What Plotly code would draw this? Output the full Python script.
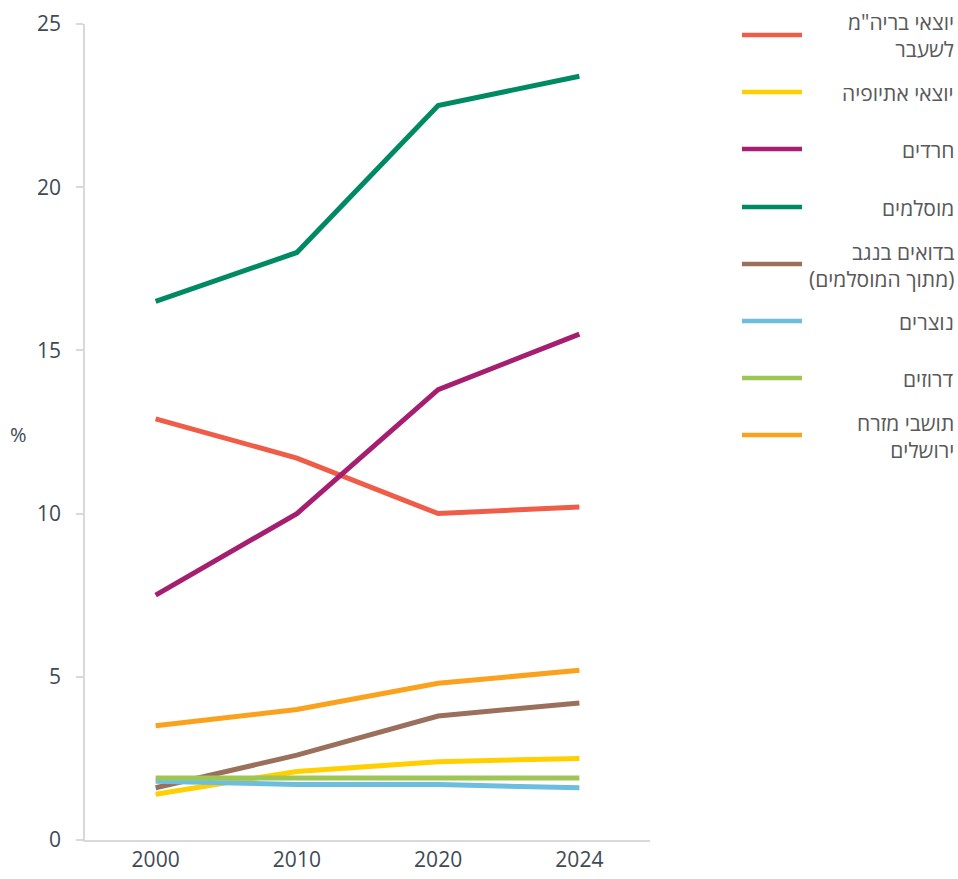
import plotly.graph_objects as go

years = ["2000", "2010", "2020", "2024"]

series_names = [
    'יוצאי בריה"מ<br>לשעבר',
    "יוצאי אתיופיה",
    "חרדים",
    "מוסלמים",
    "בדואים בנגב<br>(מתוך המוסלמים)",
    "נוצרים",
    "דרוזים",
    "תושבי מזרח<br>ירושלים",
]

fsu = [12.9, 11.7, 10.0, 10.2]
ethiopia = [1.4, 2.1, 2.4, 2.5]
haredim = [7.5, 10.0, 13.8, 15.5]
muslims = [16.5, 18.0, 22.5, 23.4]
bedouin = [1.6, 2.6, 3.8, 4.2]
christians = [1.8, 1.7, 1.7, 1.6]
druze = [1.9, 1.9, 1.9, 1.9]
east_jerusalem = [3.5, 4.0, 4.8, 5.2]

values = [fsu, ethiopia, haredim, muslims, bedouin, christians, druze, east_jerusalem]
colors = ["#EF5D48", "#FFCF00", "#A61E6F", "#008A64", "#9A705C", "#6DBEDE", "#9DC655", "#FAA21D"]

y_ticks = [0, 5, 10, 15, 20, 25]

W, H = 958, 879
L, R, T, B = 85, 958 - 650, 24, 879 - 840
pw, ph = W - L - R, H - T - B


def px_x(x):
    return (x - L) / pw


def px_y(y):
    return (H - B - y) / ph


fig = go.Figure()
for name, vals, col in zip(series_names, values, colors):
    fig.add_trace(go.Scatter(
        x=years, y=vals, mode="lines", name=name.replace("<br>", " "),
        line=dict(color=col, width=5), showlegend=False,
        hoverinfo="x+y+name",
    ))

legend_y = [35, 92, 149, 207, 264, 321, 378, 435]
shapes = []
annotations = []
for name, col, ly in zip(series_names, colors, legend_y):
    shapes.append(dict(
        type="line", xref="paper", yref="paper",
        x0=px_x(742), x1=px_x(802), y0=px_y(ly), y1=px_y(ly),
        line=dict(color=col, width=4.5),
    ))
    annotations.append(dict(
        xref="paper", yref="paper", x=px_x(956), y=px_y(ly + 1),
        xanchor="right", yanchor="middle", align="right",
        text=name, showarrow=False,
        font=dict(family="Open Sans, sans-serif", size=21, color="#595959"),
    ))

annotations.append(dict(
    xref="paper", yref="paper", x=px_x(18), y=px_y(434),
    xanchor="center", yanchor="middle", text="%", showarrow=False,
    font=dict(family="Open Sans, sans-serif", size=20, color="#404a55"),
))

fig.update_layout(
    width=W, height=H,
    margin=dict(l=L, r=R, t=T, b=B, pad=0),
    plot_bgcolor="white", paper_bgcolor="white",
    shapes=shapes, annotations=annotations,
    showlegend=False,
    font=dict(family="Open Sans, sans-serif", size=21, color="#404a55"),
    xaxis=dict(
        type="category", range=[-0.5, 3.5], showgrid=False, zeroline=False,
        showline=True, linecolor="#D9D9D9", linewidth=1.5, ticks="",
        tickfont=dict(size=21, color="#404a55"), automargin=False,
    ),
    yaxis=dict(
        range=[0, 25], tickvals=y_ticks, showgrid=False, zeroline=False,
        showline=True, linecolor="#D9D9D9", linewidth=1.5,
        ticks="outside", ticklen=7, tickcolor="#D9D9D9", tickwidth=1.5,
        ticklabelstandoff=11, automargin=False,
        tickfont=dict(size=21, color="#404a55"),
    ),
)

fig.write_html("out.html", config={"displayModeBar": False},
               post_script="document.body.style.margin='0';")
